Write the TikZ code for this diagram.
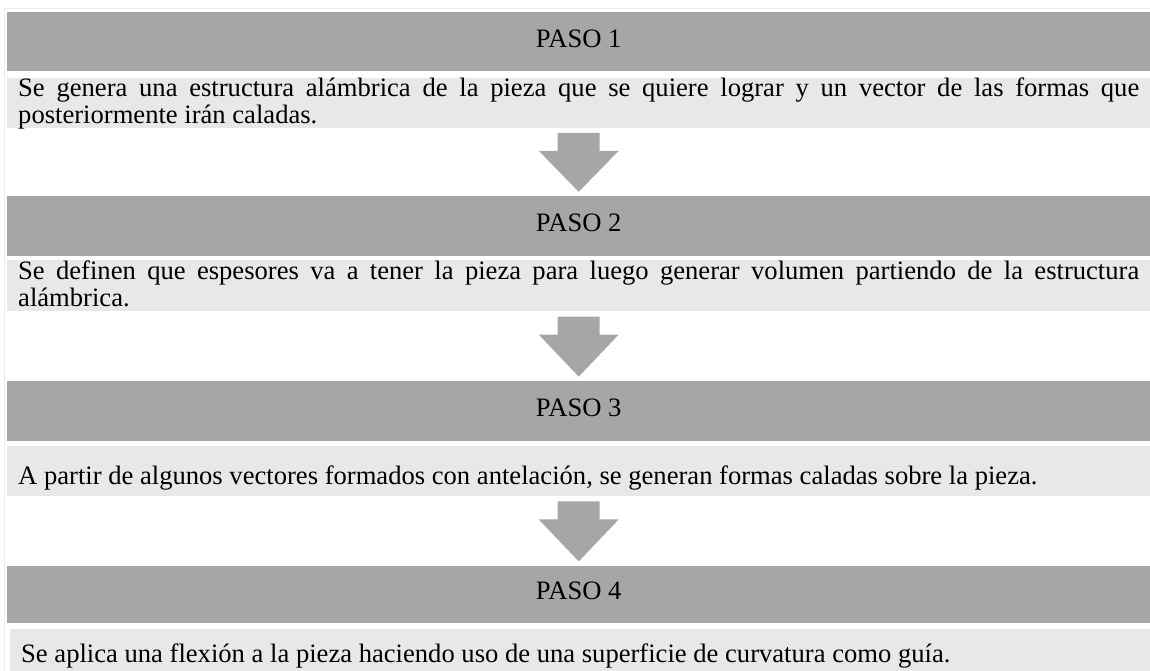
\documentclass[tikz,border=0pt]{standalone}
\usepackage{fontspec}
\setmainfont{Liberation Serif}
\usepackage{tikz}
\usetikzlibrary{positioning,calc}

\definecolor{barra}{HTML}{A6A6A6}
\definecolor{caja}{HTML}{E8E8E8}
\definecolor{marco}{HTML}{EBEBEB}

\hyphenpenalty=10000
\exhyphenpenalty=10000
\tolerance=9999

\begin{document}
\begin{tikzpicture}[every node/.style={font=\fontsize{26.6pt}{27pt}\selectfont},
	paso/.style ={fill=barra,minimum width=1143pt,minimum height=60pt,inner sep=0pt,text depth=6pt},
	texto/.style={fill=caja,text width=1121pt,inner xsep=11pt,inner ysep=0pt,align=justify,text height=18.7pt,text depth=31.3pt},
	flecha/.style={fill=barra,draw=none,to path={let \p1=(\tikztostart.south),\p2=(\tikztotarget.north) in
		(\x1-21pt,\y1-5pt) -- ++(42pt,0pt) -- ++(0pt,-18pt) -- ++(19pt,0pt) -- (\x1,\y2+4pt)
		-- (\x1-40pt,\y1-23pt) -- ++(19pt,0pt) -- cycle}}]
	\useasboundingbox (0pt,0pt) rectangle (1150pt,-671pt);
	\draw[marco,line width=1.5pt] (4.5pt,-8.5pt) rectangle (1160pt,-680pt);
	\node[paso,minimum height=59pt,anchor=north west] (b1) at (7pt,-12pt) {PASO 1};
	\node[texto]          (t1) [below=6pt of b1]  {Se genera una estructura alámbrica de la pieza que se quiere lograr y un vector de las formas que posteriormente irán caladas.};
	\node[paso]           (b2) [below=68pt of t1] {PASO 2};
	\node[texto,text depth=32.3pt] (t2) [below=4pt of b2] {Se definen que espesores va a tener la pieza para luego generar volumen partiendo de la estructura alámbrica.};
	\node[paso]           (b3) [below=69pt of t2] {PASO 3};
	\node[texto,text height=38pt,text depth=12pt] (t3) [below=5pt of b3] {A partir de algunos vectores formados con antelación, se generan formas caladas sobre la pieza.};
	\node[paso,minimum height=57pt] (b4) [below=69pt of t3] {PASO 4};
	\node[texto,text height=33pt,text depth=12pt,xshift=3pt] (t4) [below=6pt of b4] {Se aplica una flexión a la pieza haciendo uso de una superficie de curvatura como guía.};
	\path
	(t1)    edge [flecha] (b2)
	(t2)    edge [flecha] (b3)
	(t3)    edge [flecha] (b4);
\end{tikzpicture}
\end{document}
